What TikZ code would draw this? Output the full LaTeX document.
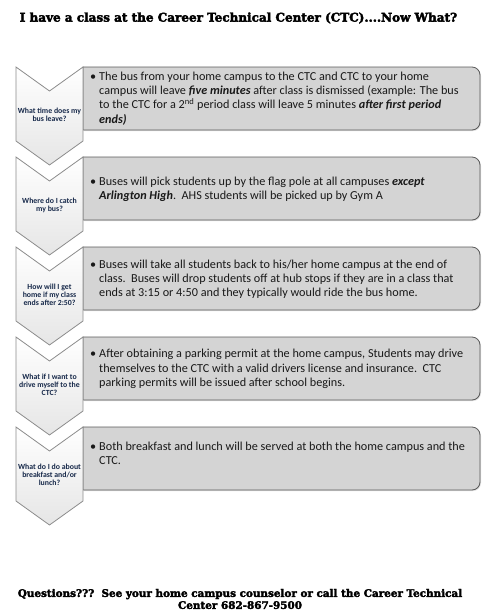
\documentclass[tikz,border=0pt]{standalone}
\usepackage{fontspec}
\setmainfont{Carlito}
\newfontfamily\headfont[BoldFeatures={FakeBold=3}]{DejaVu Serif}
\usetikzlibrary{shadows}
\definecolor{boxgray}{HTML}{D4D4D4}
\definecolor{boxline}{HTML}{5A5A5A}
\definecolor{chevline}{HTML}{8C8C8C}
\definecolor{asknavy}{HTML}{17294A}
\newcommand{\bi}[1]{\textbf{\textit{#1}}}

\begin{document}
\begin{tikzpicture}[x=1pt,y=-1pt,
    answer/.style ={fill=boxgray, draw=boxline, line width=0.8pt,
      drop shadow={opacity=0.25, shadow xshift=1pt, shadow yshift=-1pt}},
    chevron/.style ={draw=chevline, line width=0.8pt, top color=white, bottom color=black!10},
    question/.style ={font=\fontsize{7.8}{7.8}\selectfont\bfseries, text=asknavy, align=center, inner sep=0pt},
    details/.style ={font=\fontsize{12.2}{14.2}\selectfont, text=black!90, anchor=west, align=left, inner sep=0pt},
    banner/.style ={font=\headfont\bfseries\fontsize{12}{12}\selectfont, align=center, inner sep=0pt}]
   \useasboundingbox (0,0) rectangle (490,614);
   \node[banner] (title) at (238.5,18) {I have a class at the Career Technical Center (CTC)....Now What?};
   % answer boxes
   \draw[answer] (83,67) [rounded corners=8pt] -- (480,67) -- (480,130) [sharp corners] -- (83,130) -- cycle;
   \draw[answer] (83,157) [rounded corners=8pt] -- (480,157) -- (480,220) [sharp corners] -- (83,220) -- cycle;
   \draw[answer] (83,247) [rounded corners=8pt] -- (480,247) -- (480,310) [sharp corners] -- (83,310) -- cycle;
   \draw[answer] (83,337) [rounded corners=8pt] -- (480,337) -- (480,400) [sharp corners] -- (83,400) -- cycle;
   \draw[answer] (83,427) [rounded corners=8pt] -- (480,427) -- (480,490) [sharp corners] -- (83,490) -- cycle;
   % chevrons
   \draw[chevron] (16,67) -- (49.5,91) -- (83,67) -- (83,141) -- (49.5,165) -- (16,141) -- cycle;
   \draw[chevron] (16,157) -- (49.5,181) -- (83,157) -- (83,231) -- (49.5,255) -- (16,231) -- cycle;
   \draw[chevron] (16,247) -- (49.5,271) -- (83,247) -- (83,321) -- (49.5,345) -- (16,321) -- cycle;
   \draw[chevron] (16,337) -- (49.5,361) -- (83,337) -- (83,411) -- (49.5,435) -- (16,411) -- cycle;
   \draw[chevron] (16,427) -- (49.5,451) -- (83,427) -- (83,501) -- (49.5,525) -- (16,501) -- cycle;
   \node[question] (q1) at (49.5,115) {What time does my\\bus leave?};
   \node[question] (q2) at (49.5,205) {Where do I catch\\my bus?};
   \node[question] (q3) at (49.5,295) {How will I get\\home if my class\\ends after 2:50?};
   \node[question] (q4) at (49.5,385) {What if I want to\\drive myself to the\\CTC?};
   \node[question] (q5) at (49.5,475) {What do I do about\\breakfast and/or\\lunch?};
   \node[details] (a1) at (99,98.5) {\llap{\textbullet\hspace{3pt}}The bus from your home campus to the CTC and CTC to your home\\
     campus will leave \bi{five minutes} after class is dismissed (example: The bus\\
     to the CTC for a 2\textsuperscript{nd} period class will leave 5 minutes \bi{after first period}\\
     \bi{ends)}};
   \node[details] (a2) at (99,189) {\llap{\textbullet\hspace{3pt}}Buses will pick students up by the flag pole at all campuses \bi{except}\\
     \bi{Arlington High}.\ \ AHS students will be picked up by Gym A};
   \node[details] (a3) at (99,279) {\llap{\textbullet\hspace{3pt}}Buses will take all students back to his/her home campus at the end of\\
     class.\ \ Buses will drop students off at hub stops if they are in a class that\\
     ends at 3:15 or 4:50 and they typically would ride the bus home.};
   \node[details] (a4) at (99,369) {\llap{\textbullet\hspace{3pt}}After obtaining a parking permit at the home campus, Students may drive\\
     themselves to the CTC with a valid drivers license and insurance.\ \ CTC\\
     parking permits will be issued after school begins.};
   \node[details] (a5) at (99,453) {\llap{\textbullet\hspace{3pt}}Both breakfast and lunch will be served at both the home campus and the\\
     CTC.};
   \node[banner, font=\headfont\bfseries\fontsize{10.4}{12}\selectfont] (footer) at (240,599) {Questions???\ \ See your home campus counselor or call the Career Technical\\Center 682-867-9500};
 \end{tikzpicture}
\end{document}
